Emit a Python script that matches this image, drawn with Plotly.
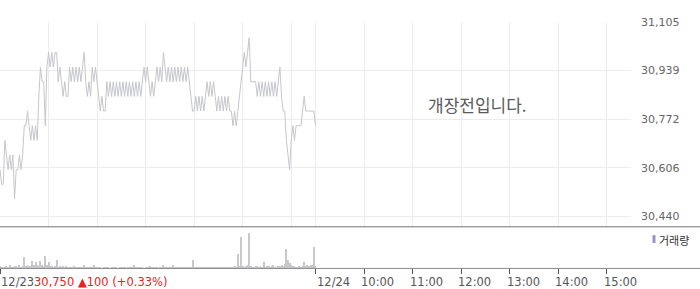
import plotly.graph_objects as go

# ---------------- data ----------------
# 2-minute samples for 12/23 (09:00 -> 15:30)
prices = [
    30600, 30550, 30550, 30700, 30650, 30600, 30650, 30600, 30650, 30500,
    30600, 30600, 30650, 30600, 30650, 30750, 30750, 30800, 30750, 30700,
    30750, 30700, 30750, 30700, 30850, 30950, 30900, 30900, 30750, 30950,
    31000, 30950, 31000, 30950, 31000, 31000, 30900, 30950, 30900, 30850,
    30900, 30850, 30850, 30950, 30900, 30950, 30900, 30950, 30900, 30950,
    30900, 30950, 31000, 30900, 30850, 30900, 30850, 30950, 30900, 30950,
    30900, 30850, 30800, 30850, 30800, 30800, 30900, 30850, 30900, 30850,
    30900, 30850, 30900, 30850, 30900, 30850, 30900, 30850, 30900, 30850,
    30900, 30850, 30900, 30850, 30900, 30850, 30900, 30850, 30900, 30950,
    30900, 30950, 30900, 30850, 30900, 30850, 30900, 30950, 30900, 30950,
    30900, 31000, 30950, 30900, 30950, 30900, 30950, 30900, 30950, 30900,
    30950, 30900, 30950, 30900, 30950, 30900, 30950, 30900, 30850, 30800,
    30800, 30850, 30800, 30850, 30800, 30850, 30800, 30850, 30900, 30850,
    30900, 30850, 30900, 30850, 30800, 30850, 30800, 30850, 30800, 30850,
    30800, 30850, 30800, 30800, 30750, 30800, 30750, 30800, 30850, 30900,
    30950, 31000, 30950, 31000, 31050, 30900, 30900, 30900, 30900, 30850,
    30900, 30850, 30900, 30850, 30900, 30850, 30900, 30850, 30900, 30850,
    30900, 30850, 30900, 30950, 30850, 30800, 30800, 30700, 30650, 30600,
    30700, 30750, 30700, 30750, 30750, 30750, 30750, 30800, 30850, 30800,
    30800, 30800, 30800, 30800, 30800, 30750,
]

volumes = [
    2500, 1200, 800, 1500, 2000, 1000, 2800, 1500, 900, 2200,
    1800, 1200, 3000, 1500, 2600, 11700, 2200, 3000, 1800, 2500,
    7000, 2800, 6700, 3500, 2400, 7000, 3000, 2000, 12700, 3200,
    6000, 2000, 2500, 1500, 2200, 8300,
    1500, 2500, 800, 1800, 1200, 2000, 600, 1400, 900, 1000,
    2500, 800, 1200, 600, 1600, 900, 2800, 700, 1100, 500,
    1400, 800, 3000, 600, 1000,
    400, 800, 0, 500, 300, 900, 600, 0, 400, 700,
    300, 500, 0, 600, 400, 800, 300, 0, 500, 700,
    400, 300, 3000, 500, 600, 300, 400, 700, 0, 500,
    300, 800, 2000, 400, 600, 300, 500, 0, 700, 400,
    3300, 600, 500, 300, 900, 400, 3700, 600, 500, 800,
    300, 700, 400, 600, 500, 900, 400, 700,
    8700,
    600, 800, 400, 1500, 500, 700, 300, 900, 500, 1200,
    600, 400, 800, 500, 1000, 700, 400, 600, 900, 500,
    700, 1200, 800, 1500, 1000, 1800, 1200,
    14700, 2000, 31700, 2500, 1500, 2000, 3000, 36000,
    2000, 1500, 1200, 2500, 1800, 1000, 2200, 1500, 6000,
    1500, 2500, 1800, 1200, 2000, 2800, 1500, 1000, 2200, 1800, 3000, 2500, 4000,
    20000, 8300,
    5000, 3500, 2500, 1800, 1500, 1200, 2000, 1500, 2500,
    6000, 2500, 3000, 2000, 2800, 3500, 22000, 2000,
]

minutes = [2 * i for i in range(len(prices))]        # minutes since 12/23 09:00
vol_minutes = [2 * i for i in range(len(volumes))]

y_tick_vals = [30440, 30606.25, 30772.5, 30938.75, 31105]
y_tick_text = ["30,440", "30,606", "30,772", "30,939", "31,105"]

day1_hour_minutes = [60, 120, 180, 240, 300, 360]
x_label_minutes = [390, 450, 510, 570, 630, 690, 750]
x_label_text = ["12/24", "10:00", "11:00", "12:00", "13:00", "14:00", "15:00"]

last_price_text = "30,750 ▲100 (+0.33%)"
first_day_label = "12/23"
status_text = "개장전입니다."
legend_text = "거래량"

# ---------------- figure ----------------
W, H = 700, 289
def py(p):  # pixel row -> paper y
    return 1 - p / H

NUM_FONT = "DejaVu Sans"
KR_FONT = "Noto Sans CJK KR"
GRID = "#ececec"

fig = go.Figure()
fig.add_trace(go.Scatter(
    x=minutes, y=prices, mode="lines",
    line=dict(color="#c5c6cc", width=1),
    xaxis="x", yaxis="y", hoverinfo="skip", showlegend=False,
))
fig.add_trace(go.Bar(
    x=vol_minutes, y=volumes, width=1.2,
    marker=dict(color="#c8c8cc", line=dict(width=0)),
    xaxis="x2", yaxis="y2", hoverinfo="skip", showlegend=False,
))

x_dom = [0, 631 / W]
fig.update_layout(
    width=W, height=H,
    margin=dict(l=0, r=0, t=0, b=0),
    paper_bgcolor="white", plot_bgcolor="white",
    bargap=0,
    xaxis=dict(
        domain=x_dom, range=[0, 780], anchor="y",
        tickmode="array", tickvals=day1_hour_minutes + x_label_minutes,
        showticklabels=False, ticks="", showgrid=True, gridcolor=GRID,
        gridwidth=1, zeroline=False, showline=False, fixedrange=True,
    ),
    yaxis=dict(
        domain=[py(225), py(16)], range=[30406.6, 31105], anchor="x",
        side="right", tickmode="array", tickvals=y_tick_vals,
        ticktext=y_tick_text, ticks="", ticklabelstandoff=9,
        tickfont=dict(family=NUM_FONT, size=11, color="#666666"),
        showgrid=True, gridcolor=GRID, zeroline=False, showline=False,
    ),
    xaxis2=dict(
        domain=x_dom, range=[0, 780], anchor="y2", matches="x",
        tickmode="array", tickvals=[0] + x_label_minutes,
        showticklabels=False, ticks="outside", ticklen=5, tickwidth=1,
        tickcolor="#555555", showgrid=False, zeroline=False, showline=False,
    ),
    yaxis2=dict(
        domain=[py(268), py(226)], range=[0, 42000], anchor="x2",
        showticklabels=False, ticks="", showgrid=False, zeroline=False,
        showline=False,
    ),
    shapes=[
        dict(type="line", xref="paper", yref="paper", x0=0, x1=1,
             y0=py(225.5), y1=py(225.5), line=dict(color="#707070", width=1)),
        dict(type="line", xref="paper", yref="paper", x0=0, x1=1,
             y0=py(268), y1=py(268), line=dict(color="#8a8a8a", width=1)),
        dict(type="rect", xref="paper", yref="paper", x0=652.5 / W, x1=655.5 / W,
             y0=py(242), y1=py(234), fillcolor="#9a8fd0", line=dict(width=0)),
    ],
)

annotations = [
    dict(text=status_text, xref="paper", yref="paper", x=426 / W, y=py(101),
         xanchor="left", yanchor="middle", showarrow=False,
         font=dict(family=KR_FONT, size=17, color="#5a5a5a")),
    dict(text=legend_text, xref="paper", yref="paper", x=657 / W, y=py(238.5),
         xanchor="left", yanchor="middle", showarrow=False,
         font=dict(family=KR_FONT, size=11, color="#333333")),
    dict(text=first_day_label, xref="paper", yref="paper", x=-1 / W, y=py(281.5),
         xanchor="left", yanchor="middle", showarrow=False,
         font=dict(family=NUM_FONT, size=11.5, color="#555555")),
    dict(text=last_price_text, xref="paper", yref="paper", x=32 / W, y=py(281.5),
         xanchor="left", yanchor="middle", showarrow=False,
         font=dict(family=NUM_FONT, size=11.5, color="#e8231f")),
]
for m, t in zip(x_label_minutes, x_label_text):
    annotations.append(dict(
        text=t, xref="x2", yref="paper", x=m, y=py(281.5),
        xanchor="left", yanchor="middle", showarrow=False,
        xshift=-1 if t == "12/24" else -5,
        font=dict(family=NUM_FONT, size=11.5, color="#555555"),
    ))
fig.update_layout(annotations=annotations)

fig.write_html("out.html")
